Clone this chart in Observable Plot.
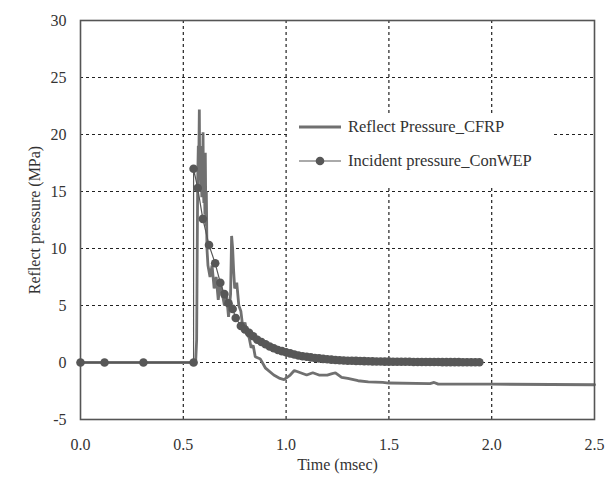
<!DOCTYPE html>
<html><head><meta charset="utf-8">
<script src="https://cdn.jsdelivr.net/npm/d3@7"></script>
<script src="https://cdn.jsdelivr.net/npm/@observablehq/plot@0.6"></script>
<style>
body{margin:0;background:#fff;}
#wrap{position:relative;width:611px;height:483px;}
#legend{position:absolute;left:289px;top:113px;width:264px;height:74px;background:#fff;font-family:"Liberation Serif",serif;font-size:16.5px;color:#333;}
#legend .row{position:absolute;left:10px;height:20px;display:flex;align-items:center;white-space:nowrap;}
#legend svg{margin-right:7px;}
</style>
</head><body>
<div id="wrap"></div>
<script>
// Reflect Pressure_CFRP (time ms, pressure MPa)
const reflectT = [0, 0.56, 0.565, 0.57, 0.573, 0.575, 0.578, 0.58, 0.582, 0.585, 0.588, 0.59, 0.592, 0.594, 0.596, 0.598, 0.6, 0.603, 0.605, 0.607, 0.61, 0.612, 0.615, 0.62, 0.63, 0.64, 0.65, 0.66, 0.67, 0.68, 0.69, 0.7, 0.71, 0.72, 0.73, 0.735, 0.74, 0.745, 0.75, 0.76, 0.77, 0.78, 0.79, 0.8, 0.81, 0.82, 0.83, 0.84, 0.85, 0.875, 0.9, 0.94, 0.97, 0.99, 1.02, 1.04, 1.07, 1.1, 1.13, 1.16, 1.2, 1.22, 1.24, 1.27, 1.3, 1.35, 1.4, 1.47, 1.5, 1.7, 1.72, 1.74, 2.0, 2.5];
const reflectP = [0, 0, 2, 16, 19, 17, 22.2, 16, 18, 15, 17, 14.5, 19, 16, 20.2, 15, 14, 17, 13, 18.4, 12, 15, 10, 8.5, 7.5, 8.5, 6.5, 7.5, 5.5, 7, 6, 5, 6, 4, 6, 11.1, 10, 8, 6.5, 7, 5, 4.5, 3, 3.5, 2.5, 2.2, 1.3, 1.5, 0.5, 0.3, -0.5, -1.1, -1.4, -1.5, -1.1, -0.7, -0.9, -1.1, -0.9, -1.1, -1.1, -1.0, -0.9, -1.3, -1.4, -1.6, -1.7, -1.75, -1.8, -1.85, -1.75, -1.9, -1.9, -1.95];

// Incident pressure_ConWEP
const incidentT = [0, 0.117, 0.306, 0.55, 0.55, 0.57, 0.595, 0.625, 0.655, 0.68, 0.7, 0.72, 0.74, 0.755, 0.78, 0.8, 0.82, 0.84, 0.86, 0.88, 0.9, 0.92, 0.94, 0.96, 0.98, 1.0, 1.02, 1.04, 1.06, 1.08, 1.1, 1.12, 1.14, 1.16, 1.18, 1.2, 1.22, 1.24, 1.26, 1.28, 1.3, 1.32, 1.34, 1.36, 1.38, 1.4, 1.42, 1.44, 1.46, 1.48, 1.5, 1.52, 1.54, 1.56, 1.58, 1.6, 1.62, 1.64, 1.66, 1.68, 1.7, 1.72, 1.74, 1.76, 1.78, 1.8, 1.82, 1.84, 1.86, 1.88, 1.9, 1.92, 1.94];
const incidentP = [0, 0, 0, 0, 17, 15.3, 12.6, 10.3, 8.7, 7.0, 6.0, 5.2, 4.7, 3.9, 3.2, 2.9, 2.6, 2.3, 2.0, 1.8, 1.6, 1.4, 1.25, 1.1, 1.0, 0.9, 0.8, 0.7, 0.62, 0.55, 0.5, 0.45, 0.4, 0.36, 0.32, 0.28, 0.25, 0.22, 0.2, 0.18, 0.16, 0.15, 0.14, 0.13, 0.12, 0.11, 0.1, 0.09, 0.09, 0.08, 0.08, 0.07, 0.07, 0.06, 0.06, 0.06, 0.05, 0.05, 0.05, 0.04, 0.04, 0.04, 0.04, 0.03, 0.03, 0.03, 0.03, 0.03, 0.02, 0.02, 0.02, 0.02, 0.02];

const xTicks = [0, 0.5, 1.0, 1.5, 2.0, 2.5];
const yTicks = [-5, 0, 5, 10, 15, 20, 25, 30];
const seriesNames = ["Reflect Pressure_CFRP", "Incident pressure_ConWEP"];

const reflect = reflectT.map((t, i) => ({t, p: reflectP[i]}));
const incident = incidentT.map((t, i) => ({t, p: incidentP[i]}));

const reflectColor = "#707070";
const incidentColor = "#575757";

const chart = Plot.plot({
  width: 611,
  height: 483,
  marginLeft: 80,
  marginRight: 17,
  marginTop: 20,
  marginBottom: 64,
  style: {fontFamily: "'Liberation Serif', serif", fontSize: "16px", color: "#333", background: "#fff"},
  x: {domain: [0, 2.5]},
  y: {domain: [-5, 30]},
  marks: [
    Plot.gridX(xTicks.slice(1, -1), {stroke: "#222", strokeOpacity: 1, strokeWidth: 1.2, strokeDasharray: "3,3"}),
    Plot.gridY(yTicks.slice(1, -1), {stroke: "#222", strokeOpacity: 1, strokeWidth: 1.2, strokeDasharray: "3,3"}),
    Plot.line(reflect, {x: "t", y: "p", stroke: reflectColor, strokeWidth: 2.8, strokeLinejoin: "miter"}),
    Plot.line(incident, {x: "t", y: "p", stroke: incidentColor, strokeWidth: 1.2}),
    Plot.dot(incident, {x: "t", y: "p", r: 4.3, fill: incidentColor, stroke: "none"}),
    Plot.frame({stroke: "#555", strokeWidth: 1.6}),
    Plot.axisX(xTicks, {tickSize: 0, tickPadding: 19, tickFormat: d3.format(".1f"), label: "Time (msec)", labelAnchor: "center", labelArrow: "none", labelOffset: 50, fontSize: 16}),
    Plot.axisY(yTicks, {tickSize: 0, tickPadding: 14, tickFormat: d => String(d), label: "Reflect pressure (MPa)", labelAnchor: "center", labelArrow: "none", labelOffset: 52, fontSize: 16})
  ]
});

const wrap = document.getElementById("wrap");
wrap.appendChild(chart);

const legend = document.createElement("div");
legend.id = "legend";
legend.innerHTML = `
  <div class="row" style="top:4px">
    <svg width="42" height="10"><line x1="0" y1="5" x2="42" y2="5" stroke="${reflectColor}" stroke-width="3"/></svg>${seriesNames[0]}
  </div>
  <div class="row" style="top:38px">
    <svg width="42" height="10"><line x1="0" y1="5" x2="42" y2="5" stroke="${incidentColor}" stroke-width="1.2"/><circle cx="21" cy="5" r="4.3" fill="${incidentColor}"/></svg>${seriesNames[1]}
  </div>`;
wrap.appendChild(legend);
</script>
</body></html>
